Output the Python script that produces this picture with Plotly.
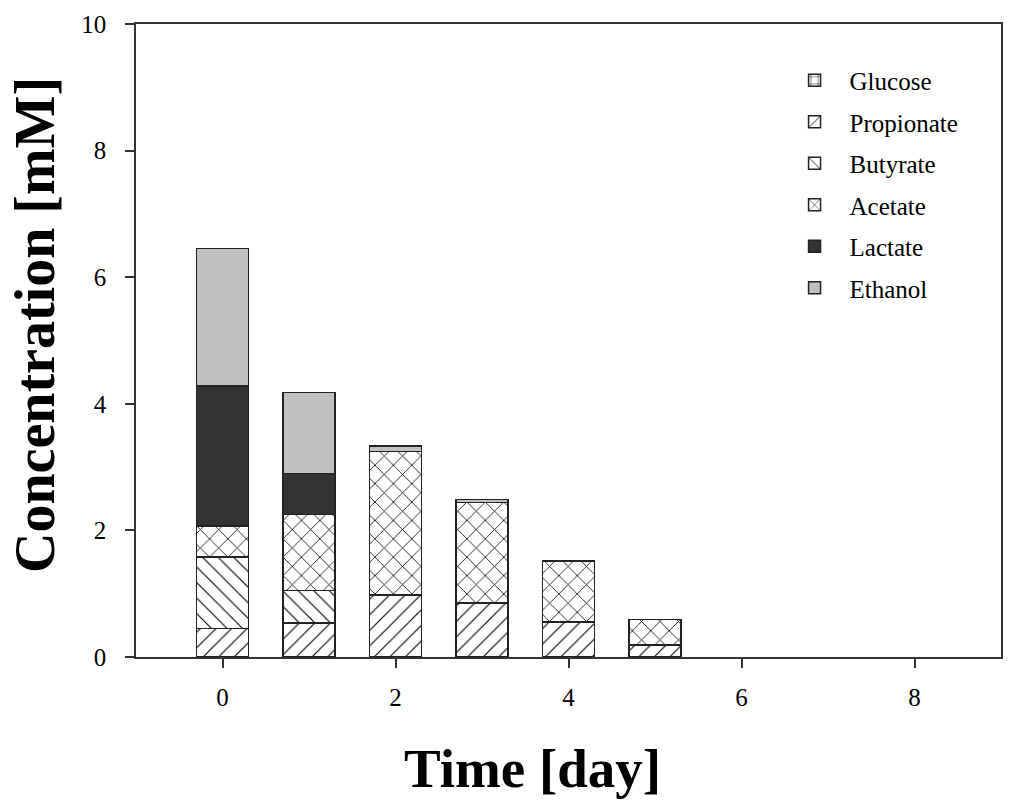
import plotly.graph_objects as go

days = [0, 1, 2, 3, 4, 5]
glucose    = [0, 0, 0, 0, 0, 0]
propionate = [0.45, 0.54, 0.98, 0.85, 0.55, 0.19]
butyrate   = [1.13, 0.51, 0, 0, 0, 0]
acetate    = [0.49, 1.20, 2.27, 1.59, 0.97, 0.40]
lactate    = [2.21, 0.65, 0, 0, 0, 0]
ethanol    = [2.17, 1.28, 0.08, 0.05, 0, 0]

x_ticks = [0, 2, 4, 6, 8]
y_ticks = [0, 2, 4, 6, 8, 10]

FONT = "Liberation Serif, Times New Roman, serif"

series = [
    ("Glucose", glucose, dict(color="white", pattern=dict(shape="+", fgcolor="black", bgcolor="white", size=9, solidity=0.12, fillmode="replace"))),
    ("Propionate", propionate, dict(color="white", pattern=dict(shape="/", fgcolor="black", bgcolor="white", size=11, solidity=0.1, fillmode="replace"))),
    ("Butyrate", butyrate, dict(color="white", pattern=dict(shape="\\", fgcolor="black", bgcolor="white", size=11, solidity=0.1, fillmode="replace"))),
    ("Acetate", acetate, dict(color="white", pattern=dict(shape="x", fgcolor="black", bgcolor="white", size=13, solidity=0.12, fillmode="replace"))),
    ("Lactate", lactate, dict(color="#333333")),
    ("Ethanol", ethanol, dict(color="#c0c0c0")),
]

fig = go.Figure()
for name, vals, mk in series:
    marker = dict(line=dict(color="#222222", width=1.5))
    marker.update(mk)
    fig.add_trace(go.Bar(x=days, y=vals, name=name, width=0.6, marker=marker,
                         legendgroup=name))

# plot area target (page px): x 136-1001, y 24-657
fig.update_layout(
    barmode="stack",
    width=1030, height=805,
    paper_bgcolor="white", plot_bgcolor="white",
    margin=dict(l=136, r=29, t=24, b=148),
    font=dict(family=FONT, color="black", size=25),
    showlegend=True,
    legend=dict(x=0.744, y=0.947, xanchor="left", yanchor="top",
                traceorder="grouped", tracegroupgap=6,
                font=dict(family=FONT, size=25, color="black"),
                bgcolor="rgba(0,0,0,0)", itemwidth=60),
    xaxis=dict(range=[-1, 9], tickvals=x_ticks, ticks="outside", ticklen=9,
               tickwidth=1.5, tickcolor="#333333", automargin=False,
               ticklabelstandoff=8,
               showline=True, linecolor="#333333", linewidth=1.5, mirror=True,
               showgrid=False, zeroline=False,
               tickfont=dict(family=FONT, size=25, color="black")),
    yaxis=dict(range=[0, 10], tickvals=y_ticks, ticks="outside", ticklen=9,
               tickwidth=1.5, tickcolor="#333333", automargin=False,
               ticklabelstandoff=14,
               showline=True, linecolor="#333333", linewidth=1.5, mirror=True,
               showgrid=False, zeroline=False,
               tickfont=dict(family=FONT, size=25, color="black")),
    annotations=[
        dict(text="<b>Time [day]</b>", xref="paper", yref="paper",
             x=(532 - 136) / 865, y=-(768 - 657) / 633, xanchor="center", yanchor="middle",
             showarrow=False, font=dict(family=FONT, size=55, color="black")),
        dict(text="<b>Concentration [mM]</b>", xref="paper", yref="paper",
             x=-(136 - 35) / 865, y=(657 - 325) / 633, xanchor="center", yanchor="middle",
             textangle=-90, showarrow=False, font=dict(family=FONT, size=56, color="black")),
    ],
)

fig.write_html("out.html", post_script="document.body.style.margin='0';",
               config={"displayModeBar": False})
